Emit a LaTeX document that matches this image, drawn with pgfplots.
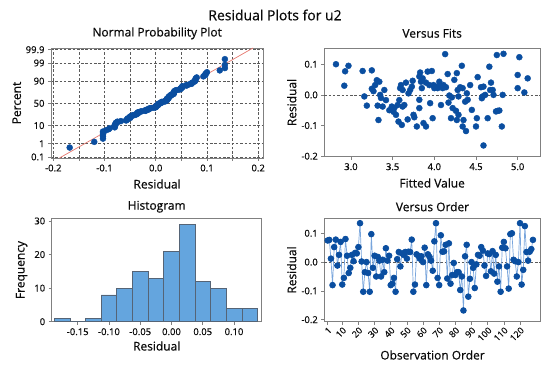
\documentclass[border=0pt]{standalone}
\usepackage{fontspec}
\setmainfont{Open Sans}
\newfontface\labfont{Open Sans}[FakeBold=0.6]
\newfontface\tickfont{Open Sans}[FakeBold=0.4]
\usepackage{pgfplots}
\pgfplotsset{compat=1.18}
\usepackage{pgfplotstable}

\definecolor{mblue}{RGB}{10,78,160}
\definecolor{lineblue}{RGB}{120,165,220}
\definecolor{histfill}{RGB}{100,165,222}
\definecolor{histedge}{RGB}{85,100,118}
\definecolor{framegray}{RGB}{128,128,128}
\definecolor{gridcol}{RGB}{90,90,90}
\definecolor{fitred}{RGB}{230,120,110}
\definecolor{txt}{RGB}{10,10,10}

% Normal probability plot: sorted residual, normal score
\pgfplotstableread{
res z
-0.168 -2.547
-0.12 -2.219
-0.103 -2.033
-0.103 -1.899
-0.103 -1.792
-0.103 -1.702
-0.103 -1.624
-0.097 -1.555
-0.092 -1.492
-0.09 -1.436
-0.08 -1.383
-0.08 -1.334
-0.08 -1.288
-0.08 -1.244
-0.078 -1.203
-0.078 -1.164
-0.078 -1.126
-0.075 -1.090
-0.075 -1.055
-0.068 -1.022
-0.058 -0.989
-0.057 -0.958
-0.055 -0.927
-0.055 -0.898
-0.055 -0.869
-0.05 -0.841
-0.05 -0.814
-0.05 -0.787
-0.05 -0.760
-0.048 -0.734
-0.045 -0.709
-0.045 -0.684
-0.04 -0.660
-0.038 -0.636
-0.038 -0.612
-0.035 -0.589
-0.035 -0.566
-0.035 -0.543
-0.035 -0.520
-0.032 -0.498
-0.03 -0.476
-0.027 -0.454
-0.02 -0.433
-0.02 -0.412
-0.02 -0.391
-0.015 -0.370
-0.015 -0.349
-0.015 -0.328
-0.012 -0.308
-0.012 -0.287
-0.008 -0.267
-0.003 -0.247
0 -0.227
0 -0.207
0 -0.187
0 -0.167
0.002 -0.147
0.003 -0.128
0.003 -0.108
0.005 -0.088
0.005 -0.068
0.005 -0.049
0.005 -0.029
0.008 -0.010
0.008 0.010
0.01 0.029
0.012 0.049
0.012 0.068
0.012 0.088
0.018 0.108
0.018 0.128
0.02 0.147
0.02 0.167
0.022 0.187
0.022 0.207
0.022 0.227
0.022 0.247
0.022 0.267
0.025 0.287
0.025 0.308
0.025 0.328
0.025 0.349
0.025 0.370
0.027 0.391
0.027 0.412
0.028 0.433
0.03 0.454
0.03 0.476
0.03 0.498
0.032 0.520
0.035 0.543
0.035 0.566
0.035 0.589
0.035 0.612
0.036 0.636
0.036 0.660
0.036 0.684
0.037 0.709
0.038 0.734
0.04 0.760
0.045 0.787
0.048 0.814
0.048 0.841
0.05 0.869
0.05 0.898
0.052 0.927
0.052 0.958
0.052 0.989
0.06 1.022
0.06 1.055
0.065 1.090
0.07 1.126
0.07 1.164
0.072 1.203
0.075 1.244
0.077 1.288
0.077 1.334
0.078 1.383
0.078 1.436
0.08 1.492
0.093 1.555
0.097 1.624
0.097 1.702
0.1 1.792
0.125 1.899
0.135 2.033
0.135 2.219
0.135 2.547
}\nppdata

% Versus fits
\pgfplotstableread{
fit res
2.82 0.1
2.92 0.03
2.93 0.077
2.97 0.095
3.14 0.078
3.16 -0.005
3.19 -0.035
3.25 0.08
3.25 0.02
3.27 0.012
3.29 0.032
3.31 0.048
3.32 -0.035
3.33 -0.082
3.34 0.043
3.35 0.0
3.36 -0.01
3.38 -0.038
3.40 0.016
3.42 -0.017
3.46 -0.05
3.49 -0.038
3.51 -0.055
3.52 -0.043
3.54 -0.065
3.56 -0.033
3.57 -0.087
3.58 -0.017
3.59 0.022
3.60 0.032
3.61 -0.098
3.62 -0.038
3.62 0.016
3.64 -0.033
3.66 0.04
3.68 -0.08
3.69 0.005
3.71 0.016
3.73 0.027
3.74 0.046
3.75 -0.065
3.76 -0.073
3.79 -0.103
3.82 -0.016
3.82 -0.043
3.82 0.06
3.83 0.073
3.84 0.043
3.85 0.022
3.86 0.054
3.87 -0.092
3.90 0.04
3.90 -0.103
3.92 0.076
3.94 0.032
3.95 -0.027
3.97 0.078
3.98 -0.076
3.99 0.032
4.00 0.022
4.02 0.027
4.04 0.022
4.06 0.043
4.07 0.029
4.08 -0.033
4.10 0.022
4.11 0.032
4.13 0.133
4.14 0.025
4.16 0.068
4.17 -0.025
4.18 -0.002
4.20 -0.076
4.21 -0.008
4.22 -0.043
4.24 0.049
4.26 -0.052
4.27 0.071
4.27 -0.082
4.28 0.016
4.29 -0.065
4.29 -0.005
4.31 0.025
4.33 0.095
4.34 -0.103
4.34 0.022
4.35 -0.082
4.37 -0.022
4.38 -0.118
4.39 0.005
4.40 -0.016
4.43 0.032
4.45 -0.049
4.50 -0.103
4.51 -0.076
4.52 0.058
4.56 0.025
4.57 -0.011
4.58 -0.005
4.59 -0.165
4.59 0.027
4.61 0.0
4.64 -0.076
4.66 0.092
4.67 0.016
4.68 0.04
4.70 0.016
4.71 0.0
4.74 -0.054
4.75 0.13
4.76 -0.052
4.78 -0.051
4.81 -0.103
4.82 0.0
4.83 0.134
5.00 0.065
5.00 0.022
5.02 0.123
5.08 0.008
5.12 0.054
}\fitsdata

% Versus order
\pgfplotstableread{
obs res
1 0.075
2 0.077
3 0.012
4 -0.08
5 0.052
6 0.078
7 -0.012
8 0.025
9 0.07
10 -0.078
11 -0.055
12 0.08
13 0.022
14 -0.038
15 -0.02
16 0.025
17 0.003
18 0.032
19 0.03
20 0.052
21 0.135
22 0.002
23 -0.103
24 -0.035
25 0.0
26 -0.038
27 -0.103
28 0.097
29 -0.02
30 0.022
31 -0.05
32 0.018
33 0.005
34 -0.05
35 0.008
36 -0.035
37 0.048
38 0.005
39 0.022
40 -0.08
41 -0.075
42 -0.055
43 -0.103
44 0.01
45 0.035
46 -0.015
47 0.03
48 0.025
49 0.035
50 0.012
51 0.036
52 0.035
53 0.078
54 -0.103
55 -0.078
56 0.027
57 0.022
58 0.012
59 0.02
60 0.0
61 0.05
62 -0.08
63 0.027
64 0.018
65 0.005
66 -0.03
67 0.072
68 0.135
69 -0.055
70 -0.08
71 0.093
72 0.036
73 0.037
74 0.06
75 -0.057
76 0.065
77 -0.075
78 -0.045
79 -0.003
80 -0.045
81 -0.035
82 -0.035
83 -0.097
84 -0.05
85 -0.168
86 0.02
87 0.06
88 -0.12
89 -0.058
90 0.0
91 -0.02
92 -0.09
93 -0.008
94 0.025
95 0.022
96 0.052
97 0.04
98 -0.012
99 -0.048
100 0.03
101 0.028
102 -0.032
103 0.038
104 -0.04
105 0.025
106 -0.068
107 -0.015
108 -0.103
109 0.05
110 0.07
111 0.048
112 -0.015
113 -0.092
114 0.097
115 0.1
116 0.008
117 0.003
118 -0.05
119 0.0
120 0.135
121 -0.078
122 -0.027
123 0.125
124 0.035
125 0.005
126 0.036
127 0.045
128 0.077
}\orderdata

\pgfplotsset{
  mstyle/.style={
    scale only axis,
    anchor=south west,
    axis line style={draw=framegray, line width=0.8bp},
    every tick/.style={draw=framegray, line width=0.6bp},
    tick align=outside,
    major tick length=3bp,
    minor tick length=3bp,
    xtick pos=lower, ytick pos=left,
    tick label style={font=\tickfont\fontsize{9.5}{10}\selectfont, text=txt},
    /pgf/number format/assume math mode=true,
    label style={font=\labfont\fontsize{12}{14}\selectfont, text=txt},
    title style={font=\labfont\fontsize{12}{14}\selectfont, text=txt, at={(0.5,1)}, anchor=center},
    clip=false,
  },
  dots/.style={only marks, mark=*, mark size=3bp, mark options={draw=mblue, fill=mblue}},
}

\begin{document}
\begin{tikzpicture}
\useasboundingbox (0,0) rectangle (550bp,369bp);

\node[font=\labfont\fontsize{14}{16}\selectfont, text=txt] at (275bp,354bp) {Residual Plots for u2};

% Normal probability plot
\begin{axis}[mstyle,
  at={(51bp,211bp)}, width=212.3bp, height=110bp,
  xmin=-0.2045, xmax=0.21, ymin=-3.15, ymax=3.19,
  xtick={-0.2,-0.1,0,0.1,0.2}, xticklabels={-0.2,-0.1,0.0,0.1,0.2},
  minor xtick={-0.15,-0.05,0.05,0.15},
  ytick={-3.090,-2.326,-1.2816,0,1.2816,2.326,3.090},
  yticklabels={0.1,1,10,50,90,99,99.9},
  grid=both,
  major grid style={draw=gridcol, dash pattern=on 2.5bp off 1.8bp, line width=0.6bp},
  minor grid style={draw=gridcol, dash pattern=on 2.5bp off 1.8bp, line width=0.6bp},
  title={Normal Probability Plot}, title style={yshift=8.7bp},
  xlabel={Residual}, xlabel style={at={(axis description cs:0.5,0)}, anchor=center, yshift=-26bp},
  ylabel={Percent}, ylabel style={at={(axis description cs:-0.1616,0.5)}, anchor=center},
]
\addplot[fitred, line width=0.7bp] coordinates {(-0.188,-3.15) (0.190,3.19)};
\addplot[dots] table[x=res, y=z] {\nppdata};
\end{axis}

% Versus fits
\begin{axis}[mstyle,
  at={(324.3bp,212.3bp)}, width=215.7bp, height=108.4bp,
  xmin=2.68, xmax=5.268, ymin=-0.2016, ymax=0.152,
  xtick={3,3.5,4,4.5,5}, xticklabels={3.0,3.5,4.0,4.5,5.0},
  ytick={-0.2,-0.1,0,0.1}, yticklabels={-0.2,-0.1,0.0,0.1},
  title={Versus Fits}, title style={yshift=9bp},
  xlabel={Fitted Value}, xlabel style={at={(axis description cs:0.5,0)}, anchor=center, yshift=-26.3bp},
  ylabel={Residual}, ylabel style={at={(axis description cs:-0.151,0.5)}, anchor=center},
]
\addplot[gridcol, dash pattern=on 2.5bp off 1.8bp, line width=0.7bp] coordinates {(2.68,0) (5.268,0)};
\addplot[dots] table[x=fit, y=res] {\fitsdata};
\end{axis}

% Histogram
\begin{axis}[mstyle,
  at={(51.7bp,47.3bp)}, width=210bp, height=103.4bp,
  xmin=-0.1916, xmax=0.1443, ymin=0, ymax=30.8,
  xtick={-0.15,-0.1,-0.05,0,0.05,0.1},
  xticklabels={-0.15,-0.10,-0.05,0.00,0.05,0.10},
  ytick={0,10,20,30},
  title={Histogram}, title style={yshift=5.6bp},
  xlabel={Residual}, xlabel style={at={(axis description cs:0.5,0)}, anchor=center, yshift=-24.3bp},
  ylabel={Frequency}, ylabel style={at={(axis description cs:-0.143,0.5)}, anchor=center},
]
\addplot[ybar interval, fill=histfill, draw=histedge, line width=0.6bp] coordinates {
(-0.1875,1) (-0.1625,0) (-0.1375,1) (-0.1125,8) (-0.0875,10) (-0.0625,15)
(-0.0375,13) (-0.0125,21) (0.0125,29) (0.0375,12) (0.0625,10) (0.0875,4)
(0.1125,4) (0.1375,4)};
\end{axis}

% Versus order
\begin{axis}[mstyle,
  at={(324.3bp,47.3bp)}, width=216.4bp, height=103.4bp,
  xmin=-1.1, xmax=132.8, ymin=-0.207, ymax=0.152,
  xtick={1,10,20,30,40,50,60,70,80,90,100,110,120},
  xticklabel style={rotate=45, anchor=north east, inner sep=1bp, font=\tickfont\fontsize{9}{10}\selectfont},
  ytick={-0.2,-0.1,0,0.1}, yticklabels={-0.2,-0.1,0.0,0.1},
  title={Versus Order}, title style={yshift=5.6bp},
  xlabel={Observation Order}, xlabel style={at={(axis description cs:0.5,0)}, anchor=center, yshift=-33.3bp},
  ylabel={Residual}, ylabel style={at={(axis description cs:-0.1507,0.5)}, anchor=center},
]
\addplot[gridcol, dash pattern=on 2.5bp off 1.8bp, line width=0.7bp] coordinates {(-1.1,0) (132.8,0)};
\addplot[lineblue, line width=0.7bp, mark=*, mark size=2.9bp, mark options={draw=mblue, fill=mblue}] table[x=obs, y=res] {\orderdata};
\end{axis}
\end{tikzpicture}
\end{document}
